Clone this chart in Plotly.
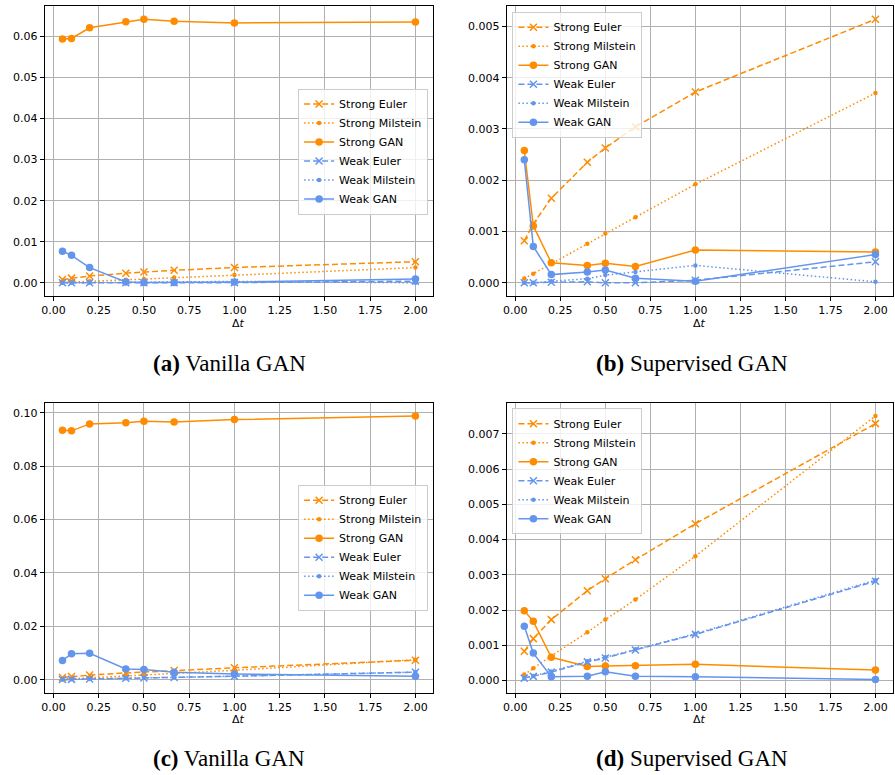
import plotly.graph_objects as go

# ---------------- data ----------------
dt = [0.05, 0.1, 0.2, 0.4, 0.5, 0.667, 1.0, 2.0]
x_ticks = [0.0, 0.25, 0.5, 0.75, 1.0, 1.25, 1.5, 1.75, 2.0]

# SDE set 1 (panels a, b)
strong_euler_1 = [0.00082, 0.00115, 0.00165, 0.00235, 0.00263, 0.00304, 0.00372, 0.00514]
strong_milstein_1 = [0.000085, 0.000175, 0.00037, 0.00076, 0.00096, 0.00128, 0.00192, 0.0037]
weak_euler_1 = [0.0, 0.0, 0.00001, 0.00002, 0.0, 0.0, 0.00005, 0.00041]
weak_milstein_1 = [0.0, 0.0, 0.00003, 0.00008, 0.00015, 0.00021, 0.00034, 0.00002]
strong_gan_a = [0.0594, 0.0595, 0.0621, 0.0636, 0.0642, 0.0637, 0.0633, 0.0635]
weak_gan_a = [0.0077, 0.0067, 0.0037, 0.0002, 0.0001, 0.0001, 0.0002, 0.0009]
strong_gan_b = [0.00258, 0.00111, 0.00039, 0.00034, 0.00038, 0.00032, 0.00064, 0.0006]
weak_gan_b = [0.0024, 0.00071, 0.00016, 0.00021, 0.00025, 0.00009, 0.00003, 0.00055]

# SDE set 2 (panels c, d)
strong_euler_2 = [0.00083, 0.00119, 0.00173, 0.00255, 0.00289, 0.00343, 0.00445, 0.00729]
strong_milstein_2 = [0.00017, 0.00035, 0.0007, 0.00137, 0.00173, 0.0023, 0.00353, 0.00751]
weak_euler_2 = [0.00007, 0.00012, 0.00024, 0.00053, 0.00064, 0.00087, 0.00131, 0.00282]
weak_milstein_2 = [0.00008, 0.00013, 0.00026, 0.00055, 0.00066, 0.00089, 0.00133, 0.00285]
strong_gan_c = [0.0934, 0.0932, 0.0958, 0.0962, 0.0968, 0.0965, 0.0974, 0.0988]
weak_gan_c = [0.0072, 0.0097, 0.0099, 0.0040, 0.0038, 0.0028, 0.0021, 0.0013]
strong_gan_d = [0.00198, 0.00168, 0.00066, 0.0004, 0.00041, 0.00042, 0.00046, 0.0003]
weak_gan_d = [0.00154, 0.00078, 0.00011, 0.00012, 0.00025, 0.00012, 0.00011, 0.00003]

series_names = ["Strong Euler", "Strong Milstein", "Strong GAN",
                "Weak Euler", "Weak Milstein", "Weak GAN"]
captions = ["Vanilla GAN", "Supervised GAN", "Vanilla GAN", "Supervised GAN"]
caption_letters = ["(a)", "(b)", "(c)", "(d)"]

panels = [
    [strong_euler_1, strong_milstein_1, strong_gan_a, weak_euler_1, weak_milstein_1, weak_gan_a],
    [strong_euler_1, strong_milstein_1, strong_gan_b, weak_euler_1, weak_milstein_1, weak_gan_b],
    [strong_euler_2, strong_milstein_2, strong_gan_c, weak_euler_2, weak_milstein_2, weak_gan_c],
    [strong_euler_2, strong_milstein_2, strong_gan_d, weak_euler_2, weak_milstein_2, weak_gan_d],
]
y_dticks = [0.01, 0.001, 0.02, 0.001]
y_formats = [".2f", ".3f", ".2f", ".3f"]

# ---------------- styling ----------------
W, H = 895, 775
ORANGE = "#FF8C00"
BLUE = "#6495ED"
colors = [ORANGE, ORANGE, ORANGE, BLUE, BLUE, BLUE]
dashes = ["6px,3px", "1.5px,2.5px", "solid", "6px,3px", "1.5px,2.5px", "solid"]
symbols = ["x-thin", "circle", "circle", "x-thin", "circle", "circle"]
msizes = [7, 4.5, 7.5, 7, 4.5, 7.5]

# axes boxes in pixels: (left, right, top, bottom)
boxes = [(41, 431, 6, 296), (505, 893, 6, 296),
         (41, 431, 402.7, 692.7), (505, 893, 402.7, 692.7)]
# legend placement: (x, y, xanchor, yanchor) in pixels
legend_pos = [(426, 151.5, "right", "middle"), (510.7, 11.7, "left", "top"),
              (426, 547.7, "right", "middle"), (510.7, 408.3, "left", "top")]
dt_label_y = [323, 323, 719, 719]
caption_pos = [(227, 363), (691, 363), (226, 758), (691, 758)]

TICKFONT = dict(family="DejaVu Sans", size=11, color="#000000")


def margin_range(vals, frac=0.05):
    lo, hi = min(vals), max(vals)
    span = hi - lo
    return [lo - frac * span, hi + frac * span]


fig = go.Figure()
layout = dict(
    width=W, height=H,
    margin=dict(l=0, r=0, t=0, b=0),
    paper_bgcolor="white", plot_bgcolor="white",
    annotations=[],
    showlegend=True,
)

xr = margin_range(dt)

for i, series in enumerate(panels):
    ax = "" if i == 0 else str(i + 1)
    leg = "legend" if i == 0 else "legend" + str(i + 1)
    for j, ys in enumerate(series):
        fig.add_trace(go.Scatter(
            x=dt, y=ys, mode="lines+markers", name=series_names[j],
            xaxis="x" + ax, yaxis="y" + ax, legend=leg,
            line=dict(color=colors[j], width=1.5, dash=dashes[j]),
            marker=dict(symbol=symbols[j], size=msizes[j], color=colors[j],
                        line=dict(color=colors[j], width=1.5 if symbols[j] == "x-thin" else 0)),
        ))
    l, r, t, b = boxes[i]
    allv = [v for s in series for v in s]
    common = dict(
        showline=True, linecolor="black", linewidth=1, mirror=True,
        ticks="outside", ticklen=4, tickwidth=1, tickcolor="black",
        showgrid=True, gridcolor="#b0b0b0", gridwidth=1,
        zeroline=False, tickfont=TICKFONT,
    )
    layout["xaxis" + ax] = dict(
        domain=[l / W, r / W], anchor="y" + ax, range=xr,
        tickmode="array", tickvals=x_ticks,
        ticktext=["%.2f" % v for v in x_ticks], **common)
    layout["yaxis" + ax] = dict(
        domain=[1 - b / H, 1 - t / H], anchor="x" + ax,
        range=margin_range(allv), dtick=y_dticks[i], tick0=0,
        tickformat=y_formats[i], **common)
    lx, ly, xa, ya = legend_pos[i]
    layout[leg] = dict(
        x=lx / W, y=1 - ly / H, xanchor=xa, yanchor=ya,
        xref="paper", yref="paper",
        bgcolor="rgba(255,255,255,0.8)", bordercolor="#cccccc", borderwidth=1,
        font=dict(family="DejaVu Sans", size=11, color="#000000"),
        tracegroupgap=0, itemwidth=30,
    )
    # x-axis label
    layout["annotations"].append(dict(
        x=(l + r) / 2 / W, y=1 - dt_label_y[i] / H, xref="paper", yref="paper",
        text="Δ<i>t</i>", showarrow=False, xanchor="center", yanchor="middle",
        font=dict(family="DejaVu Sans", size=11, color="#000000")))
    # caption
    cx, cy = caption_pos[i]
    layout["annotations"].append(dict(
        x=cx / W, y=1 - cy / H, xref="paper", yref="paper",
        text="<b>" + caption_letters[i] + "</b> " + captions[i],
        showarrow=False, xanchor="center", yanchor="middle",
        font=dict(family="Liberation Serif", size=23, color="#000000")))

fig.update_layout(**layout)
fig.write_html("out.html")
